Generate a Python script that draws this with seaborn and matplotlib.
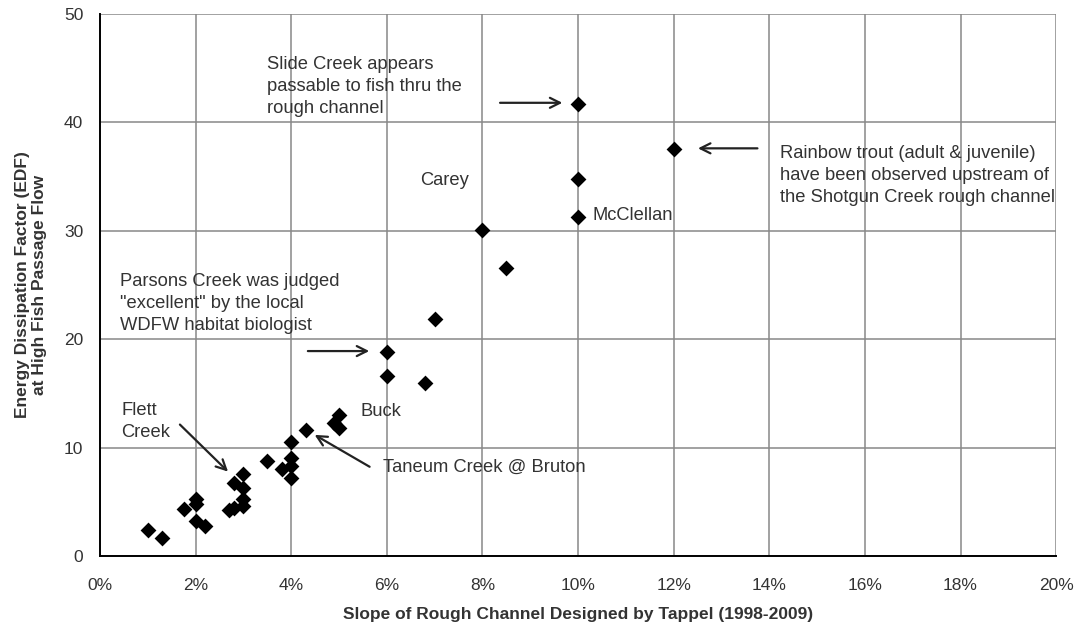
import matplotlib.pyplot as plt
import seaborn as sns
import pandas as pd
from matplotlib.ticker import PercentFormatter

# slope (%) and EDF values
slope = [1.0, 1.3, 1.75, 2.0, 2.0, 2.0, 2.2, 2.7, 2.8, 2.8, 3.0, 3.0, 3.0, 3.0,
         3.5, 3.8, 4.0, 4.0, 4.0, 4.0, 4.3, 4.9, 5.0, 5.0,
         6.0, 6.0, 6.8, 7.0, 8.0, 8.5, 10.0, 10.0, 10.0, 12.0]
edf = [2.4, 1.7, 4.3, 5.3, 4.8, 3.2, 2.8, 4.2, 4.4, 6.7, 7.6, 6.3, 5.3, 4.6,
       8.8, 8.0, 10.5, 9.0, 8.3, 7.2, 11.6, 12.3, 13.0, 11.8,
       18.8, 16.6, 16.0, 21.9, 30.1, 26.6, 41.7, 34.8, 31.3, 37.5]

x_ticks = [0, 2, 4, 6, 8, 10, 12, 14, 16, 18, 20]
y_ticks = [0, 10, 20, 30, 40, 50]

df = pd.DataFrame({'slope': slope, 'edf': edf})

sns.set_style('white')
plt.rcParams['font.family'] = ['Liberation Sans', 'DejaVu Sans']

fig = plt.figure(figsize=(10.81, 6.32), dpi=100)
ax = fig.add_axes([0.0925, 0.1203, 0.8845, 0.8577])

sns.scatterplot(data=df, x='slope', y='edf', marker='D', s=65, color='black',
                edgecolor='black', linewidth=0, ax=ax, zorder=3)

ax.set_xlim(0, 20)
ax.set_ylim(0, 50)
ax.set_xticks(x_ticks)
ax.set_yticks(y_ticks)
ax.xaxis.set_major_formatter(PercentFormatter(decimals=0))
ax.grid(True, color='#888888', linewidth=1.1)
ax.set_axisbelow(True)
for side in ['top', 'right']:
    ax.spines[side].set_visible(False)
for side in ['left', 'bottom']:
    ax.spines[side].set_color('black')
    ax.spines[side].set_linewidth(1.4)
ax.tick_params(axis='both', direction='out', length=6, width=1, color='#444444',
               labelsize=12.5, labelcolor='#333333', pad=6)
ax.tick_params(axis='x', pad=10)

ax.set_xlabel('Slope of Rough Channel Designed by Tappel (1998-2009)',
              fontsize=12.5, fontweight='bold', color='#333333', labelpad=10)
ax.set_ylabel('Energy Dissipation Factor (EDF)\nat High Fish Passage Flow',
              fontsize=12.5, fontweight='bold', color='#333333', labelpad=12)

txt = dict(fontsize=13.2, color='#333333', ha='left', va='center', linespacing=1.4)
arr = dict(arrowstyle='->', color='#222222', lw=1.6, mutation_scale=18)

ax.text(3.49, 43.3, 'Slide Creek appears\npassable to fish thru the\nrough channel', **txt)
ax.annotate('', xy=(9.73, 41.8), xytext=(8.31, 41.8), arrowprops=arr)

ax.text(14.23, 35.1, 'Rainbow trout (adult & juvenile)\nhave been observed upstream of\nthe Shotgun Creek rough channel', **txt)
ax.annotate('', xy=(12.45, 37.6), xytext=(13.81, 37.6), arrowprops=arr)

ax.text(6.69, 34.6, 'Carey', **txt)
ax.text(10.31, 31.4, 'McClellan', **txt)

ax.text(0.42, 23.3, 'Parsons Creek was judged\n"excellent" by the local\nWDFW habitat biologist', **txt)
ax.annotate('', xy=(5.69, 18.9), xytext=(4.29, 18.9), arrowprops=arr)

ax.text(0.45, 12.4, 'Flett\nCreek', **txt)
ax.annotate('', xy=(2.72, 7.6), xytext=(1.63, 12.3), arrowprops=arr)

ax.text(5.44, 13.3, 'Buck', **txt)

ax.text(5.92, 8.2, 'Taneum Creek @ Bruton', **txt)
ax.annotate('', xy=(4.44, 11.3), xytext=(5.69, 8.1), arrowprops=arr)

plt.savefig('out.png', dpi=100)
plt.close()
